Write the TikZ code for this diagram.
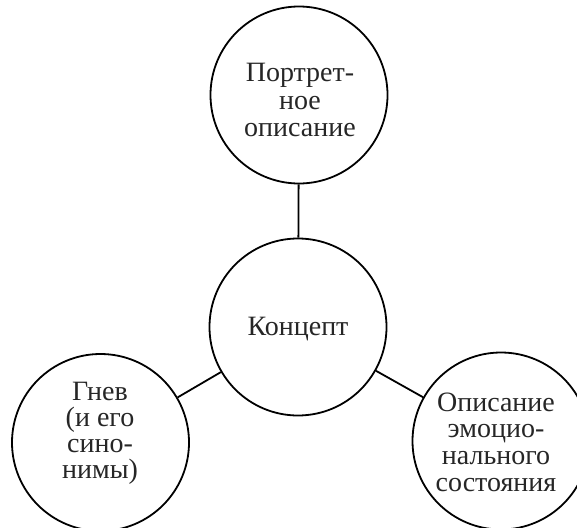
\documentclass[tikz,border=0pt]{standalone}
\usepackage{fontspec}
\setmainfont{Liberation Serif}
\begin{document}
\begin{tikzpicture}[x=1pt,y=-1pt,
  bubble/.style={circle,draw=black,line width=1.8pt,minimum size=177pt,inner sep=0pt},
  lbl/.style={anchor=north,inner sep=0pt,align=center,text=black!85,
    font=\fontsize{28}{26.7}\selectfont},
  link/.style={draw=black,line width=1.8pt}]
\useasboundingbox (0,0) rectangle (577,527);
\clip (0,0) rectangle (577,527);
\node[bubble] (top) at (299,95) {};
\node[bubble] (mid) at (298,327) {};
\node[bubble] (left) at (100.5,442.5) {};
\node[bubble] (right) at (501,441) {};
\node[lbl,font=\fontsize{28}{27.3}\selectfont] (toptext) at (300,63.3) {Портрет-\\ное\\описание};
\node[lbl] (midtext) at (298,317) {Концепт};
\node[lbl,font=\fontsize{28}{25.8}\selectfont] (lefttext) at (100,382.3) {Гнев\\(и его\\сино-\\нимы)};
\node[lbl] (righttext) at (496,392.5) {Описание\\эмоцио-\\нального\\состояния};
\draw[link] (top) -- (mid);
\draw[link] (mid) -- (left);
\draw[link] (mid) -- (right);
\end{tikzpicture}
\end{document}
